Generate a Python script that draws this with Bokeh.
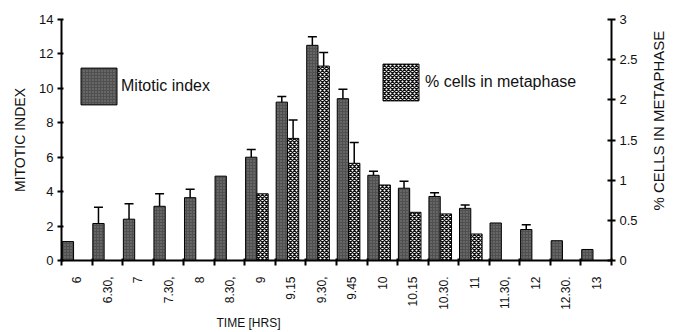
import math
import numpy as np
from bokeh.plotting import figure
from bokeh.models import (ColumnDataSource, Range1d, LinearAxis, FixedTicker, Whisker,
                          TeeHead, Title, Label, Legend, LegendItem)
from bokeh.embed import file_html
from bokeh.resources import INLINE

# ---- data ----
times = ["6", "6.30,", "7", "7.30,", "8", "8.30,", "9", "9.15", "9.30,", "9.45",
         "10", "10.15", "10.30.", "11", "11.30,", "12", "12.30.", "13"]
mitotic_index = [1.1, 2.15, 2.4, 3.15, 3.65, 4.9, 6.0, 9.2, 12.5, 9.4,
                 4.95, 4.2, 3.72, 3.03, 2.18, 1.8, 1.15, 0.64]
mitotic_err = [None, 0.95, 0.9, 0.73, 0.49, None, 0.45, 0.33, 0.5, 0.55,
               0.24, 0.4, 0.22, 0.2, None, 0.28, None, None]
metaphase_pct = [None, None, None, None, None, None, 0.83, 1.52, 2.42, 1.21,
                 0.94, 0.60, 0.58, 0.33, None, None, None, None]
metaphase_err = [None, None, None, None, None, None, None, 0.23, 0.17, 0.26,
                 None, None, None, None, None, None, None, None]
left_ticks = [0, 2, 4, 6, 8, 10, 12, 14]
right_ticks = [0, 0.5, 1, 1.5, 2, 2.5, 3]
right_tick_labels = ["0", "0.5", "1", "1.5", "2", "2.5", "3"]

FONT = "Liberation Sans"
TXT = "#111111"
n = len(times)
idx = np.arange(n)
dark_x = idx + 0.21
meta_x = idx + 0.58

mi_src = ColumnDataSource(dict(x=list(dark_x), top=mitotic_index))
mp_pairs = [(meta_x[i], v) for i, v in enumerate(metaphase_pct) if v is not None]
mp_src = ColumnDataSource(dict(x=[a for a, _ in mp_pairs], top=[b for _, b in mp_pairs]))

mie = [(dark_x[i], mitotic_index[i], mitotic_index[i] + e) for i, e in enumerate(mitotic_err) if e is not None]
mie_src = ColumnDataSource(dict(x=[a for a, _, _ in mie], lower=[b for _, b, _ in mie], upper=[c for _, _, c in mie]))
mpe = [(meta_x[i], metaphase_pct[i], metaphase_pct[i] + e) for i, e in enumerate(metaphase_err) if e is not None]
mpe_src = ColumnDataSource(dict(x=[a for a, _, _ in mpe], lower=[b for _, b, _ in mpe], upper=[c for _, _, c in mpe]))

p = figure(width=668, height=330, x_range=Range1d(0, n), y_range=Range1d(0, 14),
           output_backend="svg", toolbar_location=None,
           min_border_left=61, min_border_right=57, min_border_top=19, min_border_bottom=70)
p.extra_y_ranges = {"right": Range1d(0, 3)}
p.outline_line_color = None
p.grid.visible = False
p.background_fill_color = "white"

# bars
r1 = p.vbar(x="x", top="top", width=0.37, source=mi_src, fill_color="#505050",
            line_color="black", line_width=1, hatch_pattern="dot", hatch_color="#a0a0a0",
            hatch_scale=3, hatch_weight=0.8, hatch_alpha=0.7)
r2 = p.vbar(x="x", top="top", width=0.37, source=mp_src, y_range_name="right",
            fill_color="white", line_color="black", line_width=1,
            hatch_pattern="diagonal_cross", hatch_color="#111111", hatch_scale=4, hatch_weight=1.4)

# error bars (upper only)
for src, rng in ((mie_src, "default"), (mpe_src, "right")):
    w = Whisker(source=src, base="x", lower="lower", upper="upper", dimension="height",
                line_color="black", line_width=1.5, lower_head=None,
                upper_head=TeeHead(size=9, line_color="black", line_width=1.5),
                y_range_name=rng)
    p.add_layout(w)

# x axis: labels centred on bars, ticks at category boundaries
xa = p.xaxis[0]
centers = [float(i) + 0.5 for i in range(n)]
xa.ticker = FixedTicker(ticks=centers, minor_ticks=list(range(n + 1)))
xa.major_label_overrides = {c: t for c, t in zip(centers, times)}
xa.major_label_orientation = math.pi / 2
xa.major_tick_out = 0
xa.major_tick_in = 0
xa.minor_tick_out = 5
xa.minor_tick_in = 2
xa.minor_tick_line_width = 2
xa.minor_tick_line_color = "black"
xa.axis_line_width = 2
xa.axis_line_color = "black"
xa.major_label_standoff = 11
xa.major_label_text_font = FONT
xa.major_label_text_font_size = "12px"
xa.major_label_text_color = TXT

# left axis
ya = p.yaxis[0]
ya.ticker = FixedTicker(ticks=left_ticks)
ya.minor_tick_line_color = None
ya.major_tick_out = 4
ya.major_tick_in = 2
ya.major_tick_line_width = 2
ya.axis_line_width = 2
ya.axis_line_color = "black"
ya.major_label_standoff = 4
ya.major_label_text_font = FONT
ya.major_label_text_font_size = "13px"
ya.major_label_text_color = TXT
ya.axis_label = "MITOTIC INDEX"
ya.axis_label_text_font = FONT
ya.axis_label_text_font_style = "normal"
ya.axis_label_text_font_size = "14px"
ya.axis_label_text_color = TXT
ya.axis_label_standoff = 8

# right axis
ra = LinearAxis(y_range_name="right", ticker=FixedTicker(ticks=right_ticks))
ra.major_label_overrides = {t: s for t, s in zip(right_ticks, right_tick_labels)}
ra.minor_tick_line_color = None
ra.major_tick_out = 4
ra.major_tick_in = 4
ra.major_tick_line_width = 2
ra.axis_line_width = 2
ra.axis_line_color = "black"
ra.major_label_standoff = 4
ra.major_label_text_font = FONT
ra.major_label_text_font_size = "13px"
ra.major_label_text_color = TXT
p.add_layout(ra, "right")

# right axis title, reading bottom-to-top, placed in its own side panel
p.add_layout(Label(x=18, y=142, x_units="screen", y_units="screen", angle=math.pi / 2,
                   text="% CELLS  IN METAPHASE", text_align="center", text_baseline="middle",
                   text_font=FONT, text_font_size="15px", text_color=TXT), "right")

# x axis title, left-shifted as in the reference
p.add_layout(Title(text="TIME [HRS]", align="left", offset=155, standoff=2, text_font=FONT,
                   text_font_size="12px", text_font_style="normal", text_color=TXT), "below")

# legends (area legend glyphs are drawn with a 10% inset)
common = dict(glyph_width=45, glyph_height=46, padding=0, margin=0, border_line_color=None,
              background_fill_alpha=0, label_text_font=FONT, label_text_font_size="16px",
              label_text_color=TXT)
leg1 = Legend(items=[LegendItem(label="Mitotic index", renderers=[r1])], location=(15, 151),
              label_standoff=0, **common)
leg2 = Legend(items=[LegendItem(label="% cells in metaphase", renderers=[r2])], location=(317, 155),
              label_standoff=2, **common)
p.add_layout(leg1)
p.add_layout(leg2)

open("out.html", "w").write(file_html(p, INLINE))
